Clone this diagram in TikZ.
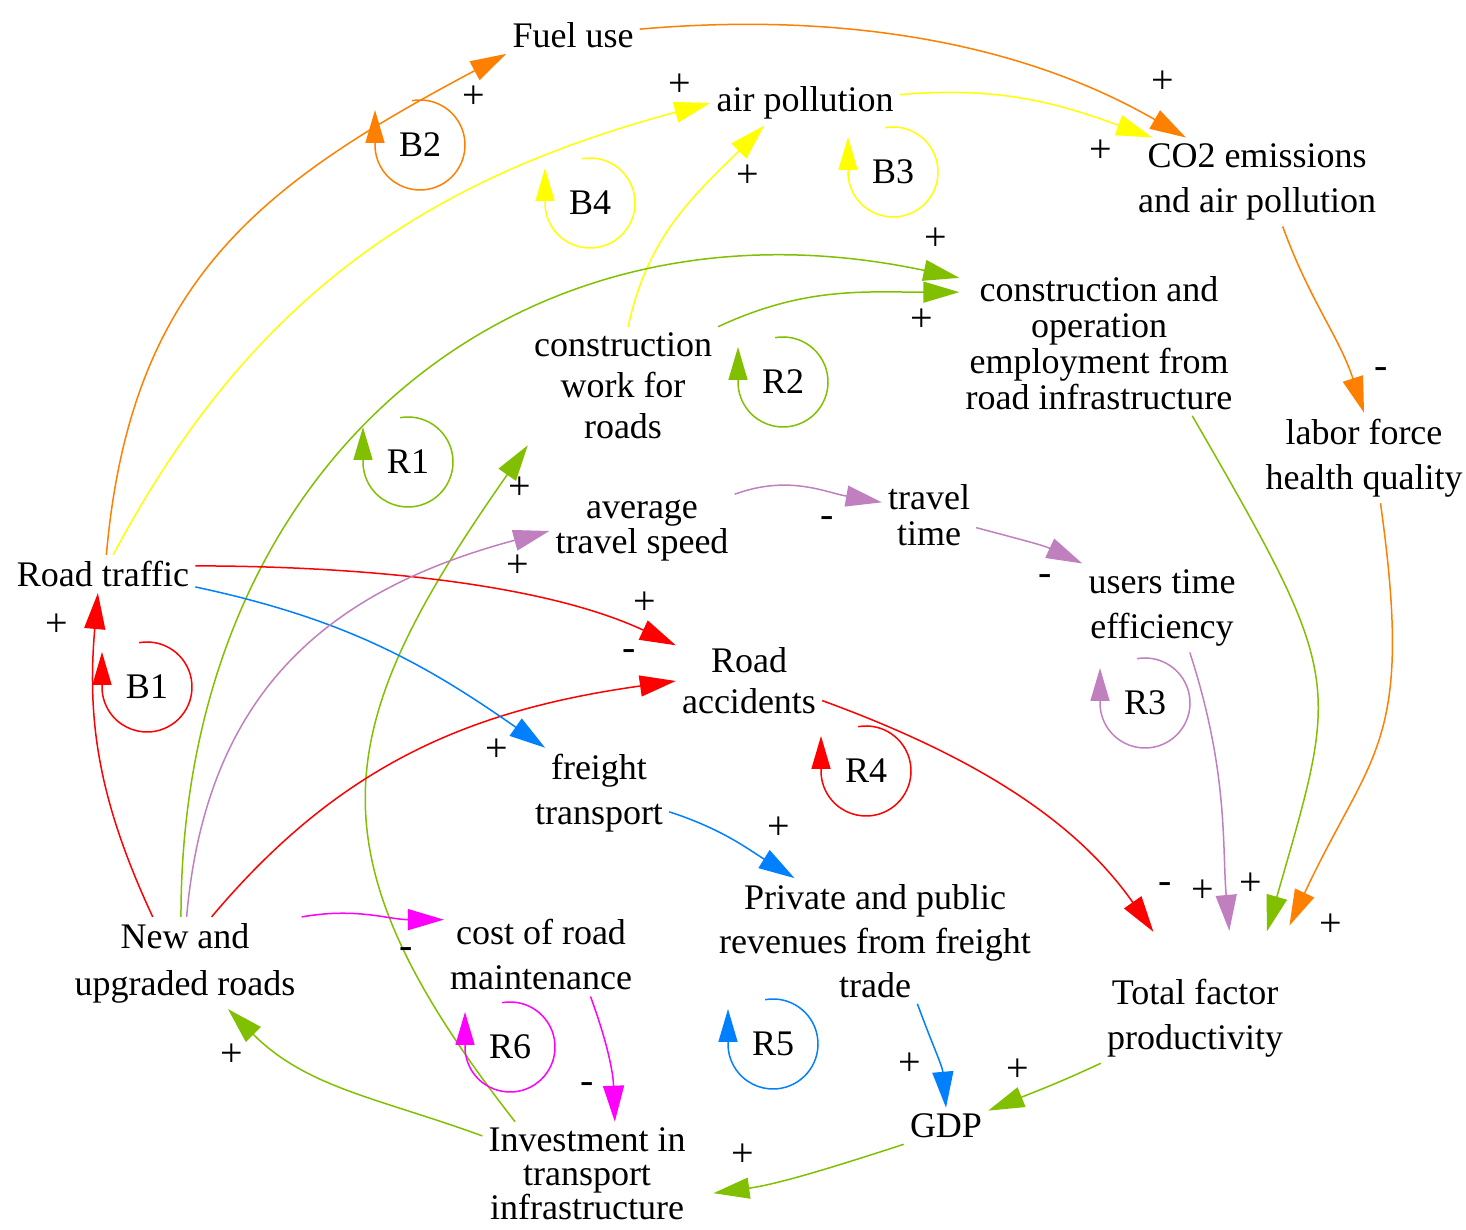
\documentclass[tikz,border=0pt]{standalone}
\usepackage{fontspec}
\setmainfont{Liberation Serif}
\usetikzlibrary{arrows.meta}

\definecolor{cdorange}{RGB}{255,128,0}
\definecolor{cdyellow}{RGB}{255,255,0}
\definecolor{cdgreen}{RGB}{128,192,0}
\definecolor{cdred}{RGB}{255,0,0}
\definecolor{cdblue}{RGB}{0,128,255}
\definecolor{cdlilac}{RGB}{192,128,192}
\definecolor{cdmagenta}{RGB}{255,0,255}

\begin{document}
\begin{tikzpicture}[x=1pt,y=1pt,
    varbox/.style ={align=center, inner sep=6pt, font=\fontsize{36}{44}\selectfont},
    baselines/.style ={font=\fontsize{36}{#1}\selectfont},
    polarity/.style ={inner sep=0pt, font=\fontsize{40}{40}\selectfont},
    link/.style ={line width=1.5pt, -{Triangle[length=36pt,width=21pt]}},
    loopmark/.style ={line width=1.5pt, -{Triangle[length=33pt,width=19pt]}},
    looplabel/.style ={inner sep=0pt, font=\fontsize{36}{36}\selectfont}]
   \useasboundingbox (0,0) rectangle (1466,1230);

   \node[varbox] (fuel) at (573,1195) {Fuel use};
   \node[varbox] (airpol) at (805,1127) {air pollution};
   \node[varbox,baselines=45] (cotwo) at (1257,1048) {CO2 emissions\\and air pollution};
   \node[varbox,baselines=36] (employ) at (1099,887) {construction and\\operation\\employment from\\road infrastructure};
   \node[varbox,baselines=41] (cwork) at (623,844) {construction\\work for\\roads};
   \node[varbox,baselines=45] (labor) at (1364,772) {labor force\\health quality};
   \node[varbox,baselines=35] (speed) at (642,699) {average\\travel speed};
   \node[varbox,baselines=36] (ttime) at (929,715) {travel\\time};
   \node[varbox,baselines=45] (users) at (1162,622) {users time\\efficiency};
   \node[varbox] (traffic) at (103,656) {Road traffic};
   \node[varbox,baselines=41] (accid) at (749,549) {Road\\accidents};
   \node[varbox,baselines=45] (freight) at (599,437) {freight\\transport};
   \node[varbox,baselines=44] (revenue) at (875,289) {Private and public\\revenues from freight\\trade};
   \node[varbox,baselines=47] (newroads) at (185,267) {New and\\upgraded roads};
   \node[varbox,baselines=45] (cost) at (541,275) {cost of road\\maintenance};
   \node[varbox,baselines=45] (tfp) at (1195,212) {Total factor\\productivity};
   \node[varbox] (gdp) at (946,104) {GDP};
   \node[varbox,baselines=34] (invest) at (587,56) {Investment in\\transport\\infrastructure};

   % orange
   \draw[link,cdorange] (traffic.80) to[out=85,in=208,looseness=1.1] (fuel.south west);
   \draw[link,cdorange] (fuel.5) to[out=5,in=150,looseness=0.9] (cotwo.148);
   \draw[link,cdorange] (cotwo.-60) to[out=-70,in=108] (labor.north);
   \draw[link,cdorange,shorten >=52pt] (labor.-70) to[out=-82,in=65,looseness=1.3] (tfp.32);

   % yellow
   \draw[link,cdyellow] (traffic.62) to[out=62,in=195] (airpol.west);
   \draw[link,cdyellow] (airpol.5) to[out=5,in=160] (cotwo.157);
   \draw[link,cdyellow] (cwork.85) to[out=78,in=225] (airpol.209);

   % green
   \draw[link,cdgreen] (newroads.95) to[out=90,in=168,looseness=1.15] (employ.155);
   \draw[link,cdgreen] (cwork.north east) to[out=25,in=180] (employ.160);
   \draw[link,cdgreen] (invest.144) to[out=128,in=235,looseness=1.3] (cwork.south west);
   \draw[link,cdgreen,shorten >=43pt] (employ.-38) to[out=-60,in=74,looseness=1.4] (tfp.37);
   \draw[link,cdgreen] (tfp.south west) to[out=205,in=22] (gdp.20);
   \draw[link,cdgreen,shorten >=22pt] (gdp.south west) to[out=198,in=8] (invest.-12);
   \draw[link,cdgreen] (invest.160) to[out=160,in=-45] (newroads.-47);

   % red
   \draw[link,cdred] (newroads.125) to[out=115,in=-95] (traffic.-105);
   \draw[link,cdred] (traffic.5) to[out=0,in=155,looseness=0.8] (accid.154);
   \draw[link,cdred] (newroads.60) to[out=50,in=188] (accid.west);
   \draw[link,cdred,shorten >=50pt] (accid.-15) to[out=-20,in=125] (tfp.106);

   % blue
   \draw[link,cdblue] (traffic.-8) to[out=-12,in=145] (freight.140);
   \draw[link,cdblue] (freight.-15) to[out=-18,in=148] (revenue.142);
   \draw[link,cdblue] (revenue.-56) to[out=-70,in=95] (gdp.north);

   % lilac
   \draw[link,cdlilac] (newroads.88) to[out=85,in=195,looseness=1.1] (speed.west);
   \draw[link,cdlilac] (speed.north east) to[out=20,in=170] (ttime.165);
   \draw[link,cdlilac] (ttime.-15) to[out=-15,in=155] (users.north west);
   \draw[link,cdlilac,shorten >=42pt] (users.-58) to[out=-72,in=95] (tfp.50);

   % magenta
   \draw[link,cdmagenta] (newroads.north east) to[out=10,in=180] (cost.160);
   \draw[link,cdmagenta] (cost.-40) to[out=-70,in=92] (invest.62);

   % polarities
   \node[polarity] (s1) at (474,1133) {+};
   \node[polarity] (s2) at (1163,1148) {+};
   \node[polarity] (s3) at (680,1145) {+};
   \node[polarity] (s4) at (1101,1079) {+};
   \node[polarity] (s5) at (748,1054) {+};
   \node[polarity] (s6) at (936,991) {+};
   \node[polarity] (s7) at (922,910) {+};
   \node[polarity] (s8) at (1381,857) {-};
   \node[polarity] (s9) at (520,742) {+};
   \node[polarity] (s10) at (518,664) {+};
   \node[polarity] (s11) at (827,708) {-};
   \node[polarity] (s12) at (1045,650) {-};
   \node[polarity] (s13) at (57,605) {+};
   \node[polarity] (s14) at (645,627) {+};
   \node[polarity] (s15) at (629,575) {-};
   \node[polarity] (s16) at (497,480) {+};
   \node[polarity] (s17) at (779,402) {+};
   \node[polarity] (s18) at (1165,342) {-};
   \node[polarity] (s19) at (1203,339) {+};
   \node[polarity] (s20) at (1251,346) {+};
   \node[polarity] (s21) at (1331,305) {+};
   \node[polarity] (s22) at (406,277) {-};
   \node[polarity] (s23) at (587,142) {-};
   \node[polarity] (s24) at (232,175) {+};
   \node[polarity] (s25) at (910,166) {+};
   \node[polarity] (s26) at (1018,160) {+};
   \node[polarity] (s27) at (743,75) {+};

   % loops
   \node[looplabel] (B2) at (420,1085) {B2};
   \draw[loopmark,cdorange] (B2.center) ++(100:45) arc[start angle=100,end angle=-180,radius=45] -- ++(0,35);
   \node[looplabel] (B4) at (590,1027) {B4};
   \draw[loopmark,cdyellow] (B4.center) ++(100:45) arc[start angle=100,end angle=-180,radius=45] -- ++(0,35);
   \node[looplabel] (B3) at (893,1058) {B3};
   \draw[loopmark,cdyellow] (B3.center) ++(100:45) arc[start angle=100,end angle=-180,radius=45] -- ++(0,35);
   \node[looplabel] (R2) at (783,848) {R2};
   \draw[loopmark,cdgreen] (R2.center) ++(100:45) arc[start angle=100,end angle=-180,radius=45] -- ++(0,35);
   \node[looplabel] (R1) at (408,768) {R1};
   \draw[loopmark,cdgreen] (R1.center) ++(100:45) arc[start angle=100,end angle=-180,radius=45] -- ++(0,35);
   \node[looplabel] (B1) at (147,543) {B1};
   \draw[loopmark,cdred] (B1.center) ++(100:45) arc[start angle=100,end angle=-180,radius=45] -- ++(0,35);
   \node[looplabel] (R3) at (1145,527) {R3};
   \draw[loopmark,cdlilac] (R3.center) ++(100:45) arc[start angle=100,end angle=-180,radius=45] -- ++(0,35);
   \node[looplabel] (R4) at (866,459) {R4};
   \draw[loopmark,cdred] (R4.center) ++(100:45) arc[start angle=100,end angle=-180,radius=45] -- ++(0,35);
   \node[looplabel] (R6) at (510,183) {R6};
   \draw[loopmark,cdmagenta] (R6.center) ++(100:45) arc[start angle=100,end angle=-180,radius=45] -- ++(0,35);
   \node[looplabel] (R5) at (773,186) {R5};
   \draw[loopmark,cdblue] (R5.center) ++(100:45) arc[start angle=100,end angle=-180,radius=45] -- ++(0,35);
\end{tikzpicture}
\end{document}
